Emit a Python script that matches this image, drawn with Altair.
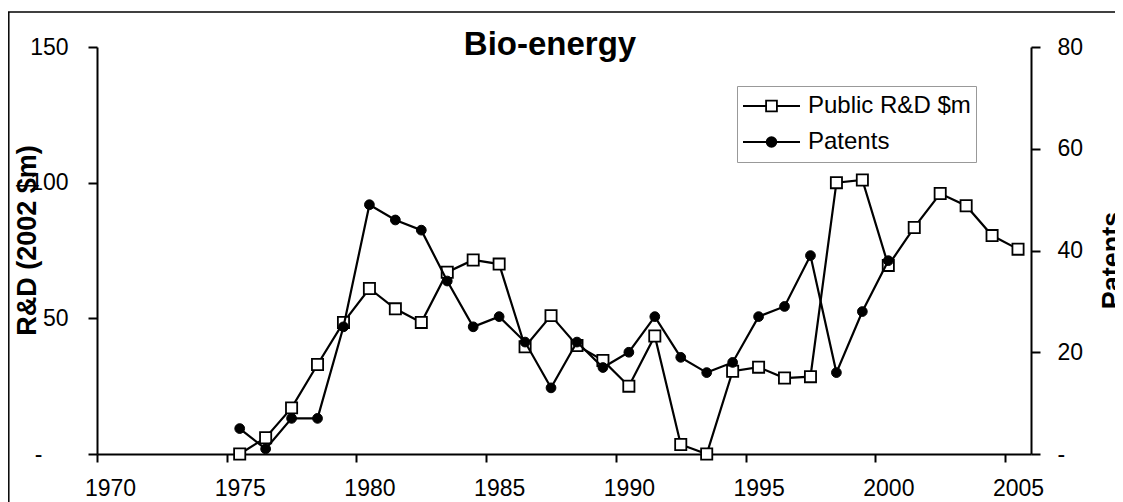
import altair as alt
import pandas as pd

years = list(range(1975, 2006))
rd_spend = [0, 6, 17, 33, 48.5, 61, 53.5, 48.5, 67, 71.5, 70, 39.5, 51, 40, 34.5, 25,
            43.5, 3.5, 0, 30.5, 32, 28, 28.5, 100, 101, 69.5, 83.5, 96, 91.5, 80.5, 75.5]
patents = [5, 1, 7, 7, 25, 49, 46, 44, 34, 25, 27, 22, 13, 22, 17, 20,
           27, 19, 16, 18, 27, 29, 39, 16, 28, 38, None, None, None, None, None]
series_names = ["Public R&D $m", "Patents"]
x_ticks = [1970, 1975, 1980, 1985, 1990, 1995, 2000, 2005]
left_ticks = [0, 50, 100, 150]
right_ticks = [0, 20, 40, 60, 80]

df = pd.DataFrame({"year": years, "rd": rd_spend, "patents": patents})
df["xpos"] = df["year"] + 0.5

FONT = "Liberation Sans"

xenc = alt.X(
    "xpos:Q",
    scale=alt.Scale(domain=[1970, 2006], nice=False, zero=False),
    axis=alt.Axis(values=x_ticks, format="d", title=None, grid=False,
                  tickSize=8, tickWidth=2, tickColor="black",
                  domainColor="black", domainWidth=2,
                  labelFontSize=23, labelFont=FONT, labelColor="black",
                  labelPadding=15, labelFlush=False, labelOffset=13),
)

left_axis = alt.Axis(
    orient="left", values=left_ticks, grid=False,
    labelExpr="datum.value == 0 ? '-' : datum.label",
    labelPadding={"condition": {"test": "datum.value == 0", "value": 46}, "value": 20},
    title="R&D (2002 $m)", titleFontSize=27, titleFontWeight="bold",
    titleFont=FONT, titleColor="black", titleAngle=270,
    titleX=-62, titleY=193, titleBaseline="alphabetic", titleAlign="center",
    tickSize=9, tickWidth=2, tickColor="black",
    domainColor="black", domainWidth=2,
    labelFontSize=23, labelFont=FONT, labelColor="black",
)

right_axis = alt.Axis(
    orient="right", values=right_ticks, grid=False,
    labelExpr="datum.value == 0 ? '-' : datum.label",
    title="Patents", titleFontSize=27, titleFontWeight="bold",
    titleFont=FONT, titleColor="black", titleAngle=270,
    titleX=89, titleY=213, titleBaseline="alphabetic", titleAlign="center",
    tickSize=9, tickWidth=2, tickColor="black",
    domainColor="black", domainWidth=2,
    labelFontSize=23, labelFont=FONT, labelColor="black", labelPadding=17,
)

base = alt.Chart(df)

y_rd = alt.Y("rd:Q", scale=alt.Scale(domain=[0, 150], nice=False), axis=left_axis)
rd_line = base.mark_line(color="black", strokeWidth=2.2).encode(x=xenc, y=y_rd)
rd_pts = base.mark_point(shape="square", filled=True, fill="white", stroke="black",
                         strokeWidth=1.8, size=125, opacity=1).encode(x=xenc, y=y_rd)
rd_layer = alt.layer(rd_line, rd_pts)

y_pat = alt.Y("patents:Q", scale=alt.Scale(domain=[0, 80], nice=False), axis=right_axis)
pat_base = base.transform_filter("isValid(datum.patents)")
pat_line = pat_base.mark_line(color="black", strokeWidth=2.2).encode(x=xenc, y=y_pat)
pat_pts = pat_base.mark_point(shape="circle", filled=True, fill="black", stroke="black",
                              strokeWidth=1, size=95, opacity=1).encode(x=xenc, y=y_pat)
pat_layer = alt.layer(pat_line, pat_pts)

sq_path = ("M-1,0L-0.19,0M0.19,0L1,0"
           "M-0.19,-0.19L0.19,-0.19L0.19,0.19L-0.19,0.19Z")
ci_path = ("M-1,0L1,0M0.17,0A0.17,0.17 0 1 1 -0.17,0"
           "A0.17,0.17 0 1 1 0.17,0Z")

legend_layer = alt.Chart(pd.DataFrame({"series": series_names})).transform_filter(
    "false"
).mark_point(size=3249, filled=True, strokeWidth=1.8, opacity=1).encode(
    shape=alt.Shape("series:N", scale=alt.Scale(domain=series_names, range=[sq_path, ci_path]),
                    title=None),
    fill=alt.Fill("series:N", scale=alt.Scale(domain=series_names, range=["white", "black"]),
                  title=None),
    stroke=alt.Stroke("series:N", scale=alt.Scale(domain=series_names, range=["black", "black"]),
                      title=None),
)

one = pd.DataFrame({"a": [0]})
frame_left = alt.Chart(one).mark_rule(color="black", strokeWidth=1.5).encode(
    x=alt.value(-88.2), y=alt.value(-35), y2=alt.value(470))
frame_top = alt.Chart(one).mark_rule(color="black", strokeWidth=1.5).encode(
    x=alt.value(-89), x2=alt.value(1100), y=alt.value(-35))
title_txt = alt.Chart(one).mark_text(
    text="Bio-energy", fontSize=33, fontWeight="bold", font=FONT,
    align="center", baseline="alphabetic", color="black",
).encode(x=alt.value(453), y=alt.value(8))

chart = alt.layer(
    rd_layer, pat_layer, legend_layer, frame_left, frame_top, title_txt
).resolve_scale(y="independent").properties(
    width=934, height=407,
    autosize=alt.AutoSizeParams(type="none"),
    padding={"left": 89, "top": 39, "right": 84, "bottom": 48},
    background="white",
).configure_view(stroke=None).configure_legend(
    orient="none", legendX=640, legendY=39,
    symbolSize=3249, symbolStrokeColor="black", symbolStrokeWidth=1.8,
    labelFontSize=24, labelFont=FONT, labelColor="black", labelOffset=7,
    labelLimit=400,
    clipHeight=30, rowPadding=6, padding=5,
    strokeColor="#999999", fillColor="white",
)

chart.save("out.html", embed_options={"renderer": "svg", "actions": False})
